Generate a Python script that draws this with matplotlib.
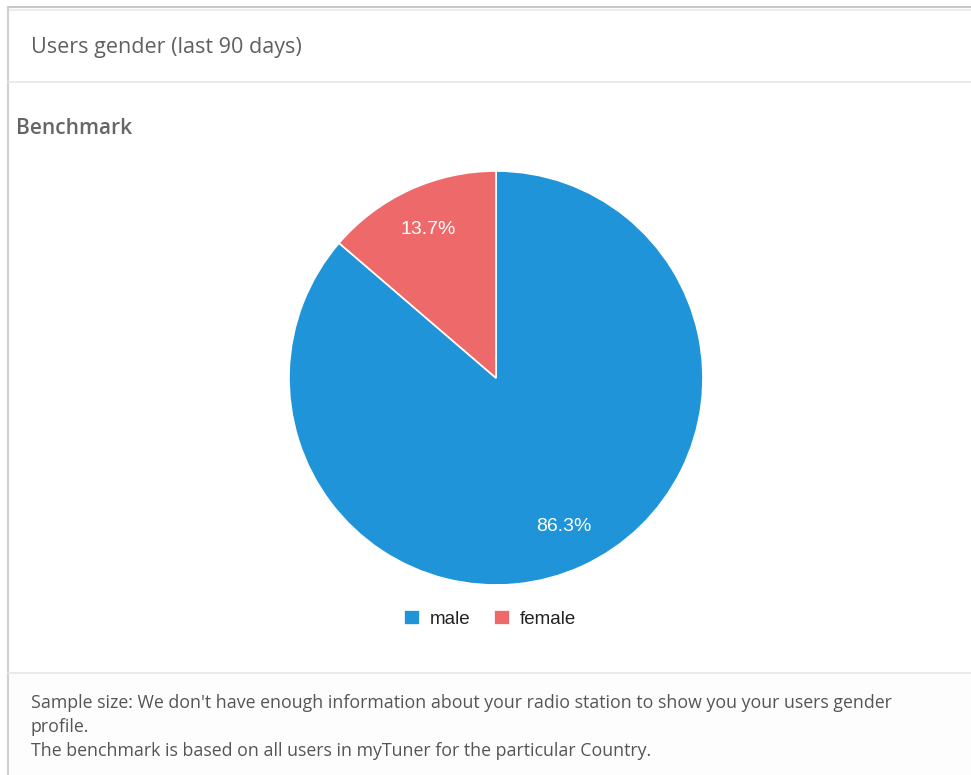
import matplotlib.pyplot as plt
from matplotlib.lines import Line2D
from matplotlib.patches import Rectangle

W, H = 971, 775

# chart data
genders = ["male", "female"]
shares = [86.3, 13.7]
colors = ["#1f94d8", "#ee6a6a"]

title = "Users gender (last 90 days)"
subtitle = "Benchmark"
footer_lines = [
    "Sample size: We don't have enough information about your radio station to show you your users gender",
    "profile.",
    "The benchmark is based on all users in myTuner for the particular Country.",
]


def px(x, y):
    # pixel coords (top-left origin) -> figure fraction
    return x / W, 1 - y / H


fig = plt.figure(figsize=(W / 100, H / 100), dpi=100)
fig.patch.set_facecolor("white")

# card frame
fig.add_artist(Rectangle(px(8, 775), 1, (775 - 673) / H, transform=fig.transFigure,
                         facecolor="#fdfdfd", edgecolor="none"))
fig.add_artist(Line2D([8 / W, 1], [1 - 7 / H] * 2, color="#c8c8c8", lw=1.5))
fig.add_artist(Line2D([8 / W, 1], [1 - 9.5 / H] * 2, color="#ececec", lw=1.5))
fig.add_artist(Line2D([8 / W] * 2, [0, 1 - 7 / H], color="#d0d0d0", lw=1.5))
fig.add_artist(Line2D([8 / W, 1], [1 - 82 / H] * 2, color="#e6e6e6", lw=1.2))
fig.add_artist(Line2D([8 / W, 1], [1 - 673 / H] * 2, color="#e6e6e6", lw=1.2))

fig.text(*px(31, 47), title, fontsize=15.5, color="#606060", family="Open Sans",
         fontweight="medium", va="center")
fig.text(*px(16, 128), subtitle, fontsize=15, color="#666666", family="Open Sans",
         fontweight="semibold", va="center")

for i, line in enumerate(footer_lines):
    fig.text(*px(31, 703 + 24 * i), line, fontsize=12.8, color="#555555", family="Open Sans",
             va="center")

# pie
cx, cy, r = 496, 378, 207
ax = fig.add_axes([(cx - r) / W, 1 - (cy + r) / H, 2 * r / W, 2 * r / H])
wedges, _, autotexts = ax.pie(
    shares, colors=colors, startangle=90, counterclock=False,
    autopct="%.1f%%", pctdistance=0.79,
    wedgeprops=dict(edgecolor="white", linewidth=1.2),
    textprops=dict(color="white", fontsize=14, family="Liberation Sans"),
)
ax.set_xlim(-1, 1)
ax.set_ylim(-1, 1)
ax.set_aspect("equal")
ax.axis("off")

fig.legend(wedges, genders, loc="center", bbox_to_anchor=px(490, 619), ncol=2, frameon=False,
           prop=dict(family="Liberation Sans", size=13.5), handlelength=0.85, handleheight=0.85,
           handletextpad=0.5, columnspacing=1.3, labelcolor="#222222")

fig.savefig("out.png", dpi=100)
